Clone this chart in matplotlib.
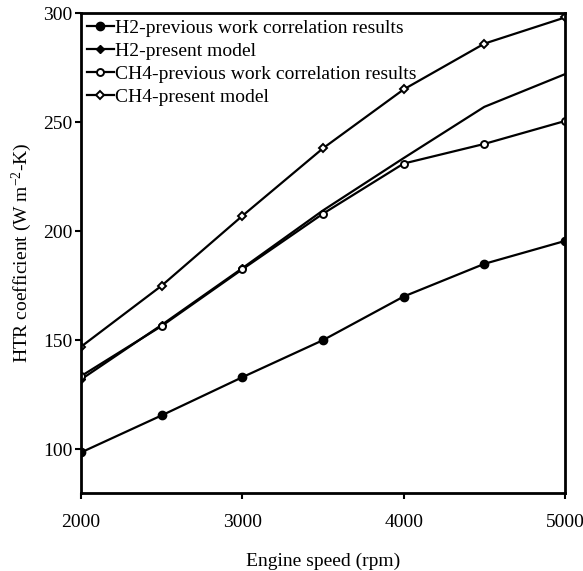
import matplotlib
matplotlib.use("Agg")
import matplotlib.pyplot as plt

plt.rcParams['font.family'] = ['Liberation Serif', 'DejaVu Serif']
plt.rcParams['mathtext.fontset'] = 'custom'
plt.rcParams['mathtext.rm'] = 'Liberation Serif'
plt.rcParams['mathtext.it'] = 'Liberation Serif:italic'

speed = [2000, 2500, 3000, 3500, 4000, 4500, 5000]
h2_prev = [98.5, 115.5, 133, 150, 170, 185, 195.5]
h2_model = [132, 157, 183, 209.5, 233.5, 257, 272]
ch4_prev = [133.5, 156.5, 182.5, 208, 231, 240, 250.5]
ch4_model = [147, 175, 207, 238, 265, 286, 298]

labels = ["H2-previous work correlation results", "H2-present model",
          "CH4-previous work correlation results", "CH4-present model"]

fig = plt.figure(figsize=(5.83, 5.71), dpi=100)
ax = fig.add_axes([0.139, 0.137, 0.830, 0.840])

lw = 1.6
ax.plot(speed, h2_prev, color='black', lw=lw, marker='o', ms=6, mfc='black', mec='black', label=labels[0])
ax.plot(speed, h2_model, color='black', lw=lw, marker='D', ms=4.5, mfc='black', mec='black',
        markevery=[0, 1, 2], label=labels[1])
ax.plot(speed, ch4_prev, color='black', lw=lw, marker='o', ms=5, mfc='white', mec='black', mew=1.4,
        label=labels[2])
ax.plot(speed, ch4_model, color='black', lw=lw, marker='D', ms=4.2, mfc='white', mec='black', mew=1.4,
        label=labels[3])

ax.set_xlim(2000, 5000)
ax.set_ylim(80, 300)
ax.set_xticks([2000, 3000, 4000, 5000])
ax.set_yticks([100, 150, 200, 250, 300])
ax.tick_params(axis='both', direction='out', length=4, width=1.5, labelsize=14)
ax.tick_params(axis='x', pad=11)
ax.tick_params(axis='y', pad=2)
for s in ax.spines.values():
    s.set_linewidth(2)

ax.set_xlabel("Engine speed (rpm)", fontsize=14, labelpad=16)
ax.set_ylabel(r"HTR coefficient (W m$^{-2}$-K)", fontsize=14, labelpad=7)

ax.legend(loc='upper left', frameon=False, fontsize=14, handlelength=1.4, handletextpad=0.05,
          labelspacing=0.28, borderaxespad=0.1, borderpad=0.2)

fig.savefig("out.png", dpi=100)
